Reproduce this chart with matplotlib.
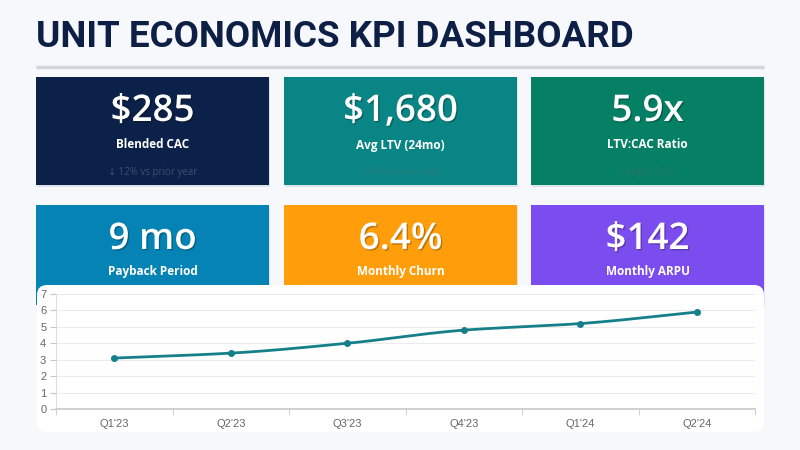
import numpy as np
import matplotlib.pyplot as plt
from matplotlib.patches import FancyBboxPatch, Rectangle
import matplotlib.patheffects as pe

title = "UNIT ECONOMICS KPI DASHBOARD"

kpi_values = ["$285", "$1,680", "5.9x", "9 mo", "6.4%", "$142"]
kpi_labels = ["Blended CAC", "Avg LTV (24mo)", "LTV:CAC Ratio",
              "Payback Period", "Monthly Churn", "Monthly ARPU"]
kpi_notes = ["\u2193 12% vs prior year", "\u2191 8% vs prior year", "Target: 3.0x",
             "", "", ""]
kpi_colors = ["#0c2149", "#0a8585", "#068065", "#0583b4", "#ff9d0a", "#7c4dee"]
kpi_note_colors = ["#3d4f73", "#2a7a7c", "#2a7566", "#2f8fb8", "#e6a040", "#9b7cf0"]

quarters = ["Q1'23", "Q2'23", "Q3'23", "Q4'23", "Q1'24", "Q2'24"]
ratio = [3.1, 3.4, 4.0, 4.8, 5.2, 5.9]


def monotone_curve(y, n=30):
    # monotone cubic hermite between the category points, only for drawing
    y = np.asarray(y, float)
    x = np.arange(len(y), dtype=float)
    d = np.diff(y)
    m = np.zeros_like(y)
    m[0], m[-1] = d[0], d[-1]
    for i in range(1, len(y) - 1):
        m[i] = 0 if d[i - 1] * d[i] <= 0 else 2 / (1 / d[i - 1] + 1 / d[i])
    xs, ys = [], []
    for i in range(len(y) - 1):
        t = np.linspace(0, 1, n)
        h00 = 2 * t**3 - 3 * t**2 + 1
        h10 = t**3 - 2 * t**2 + t
        h01 = -2 * t**3 + 3 * t**2
        h11 = t**3 - t**2
        xs.append(x[i] + t)
        ys.append(h00 * y[i] + h10 * m[i] + h01 * y[i + 1] + h11 * m[i + 1])
    return np.concatenate(xs), np.concatenate(ys)


fig = plt.figure(figsize=(8, 4.5), dpi=100)
fig.patch.set_facecolor("#f7f8fc")

# pixel-space canvas for the dashboard furniture
bg = fig.add_axes([0, 0, 1, 1])
bg.set_xlim(0, 800)
bg.set_ylim(450, 0)
bg.axis("off")

bg.text(36, 37, title, fontsize=26.5, fontweight="bold", color="#0d1f45",
        family="Roboto", va="center", ha="left")
bg.plot([36, 764], [66.5, 66.5], color="#cfd4dd", lw=2.5, solid_capstyle="butt")

card_x = [36, 284, 531]
card_w = 233
rows = [(77, 108), (205, 100)]
shadow = [pe.withSimplePatchShadow(offset=(1, -1), shadow_rgbFace="#000000", alpha=0.25)]

for i in range(6):
    r, c = divmod(i, 3)
    x0 = card_x[c]
    y0, h = rows[r]
    bg.add_patch(Rectangle((x0 + 1, y0 + 2), card_w, h, facecolor="#dfe3ec", edgecolor="none", zorder=1))
    bg.add_patch(Rectangle((x0, y0), card_w, h, facecolor=kpi_colors[i], edgecolor="none", zorder=2))
    cx = x0 + card_w / 2
    if r == 0:
        vy, ly, ny = 112, 145, 173
    else:
        vy, ly, ny = 240, 272, 300
    bg.text(cx, vy, kpi_values[i], fontsize=26.5, fontweight="semibold", color="white",
            family="Open Sans", ha="center", va="center", zorder=3, path_effects=shadow)
    bg.text(cx, ly, kpi_labels[i], fontsize=8.5, fontweight="bold", color="white",
            family="Open Sans", ha="center", va="center", zorder=3)
    if kpi_notes[i]:
        bg.text(cx, ny, kpi_notes[i], fontsize=7, color=kpi_note_colors[i],
                family=["Open Sans", "DejaVu Sans"], ha="center", va="center", zorder=3)

# chart panel
bg.add_patch(FancyBboxPatch((37, 285), 727, 147, boxstyle="round,pad=0,rounding_size=10",
                            facecolor="white", edgecolor="none", zorder=5))

ax = fig.add_axes([56 / 800, 1 - 409 / 450, (755 - 56) / 800, (409 - 294) / 450])
ax.set_facecolor("white")
ax.set_zorder(6)

xs, ys = monotone_curve(ratio)
ax.plot(xs, ys, color="#16808a", lw=2, solid_capstyle="round")
ax.plot(range(len(ratio)), ratio, "o", color="#16808a", ms=4)

ax.set_xlim(-0.5, len(quarters) - 0.5)
ax.set_ylim(0, 7)
ax.set_yticks(range(0, 8))
ax.set_xticks(range(len(quarters)))
ax.set_xticklabels(quarters)
ax.set_xticks(np.arange(-0.5, len(quarters), 1), minor=True)
ax.tick_params(axis="x", which="major", length=0, pad=7, labelsize=8, labelcolor="#666666")
ax.tick_params(axis="x", which="minor", length=4, color="#c8c8c8")
ax.tick_params(axis="y", length=4, color="#c8c8c8", labelsize=8, labelcolor="#666666", pad=3)
for lab in ax.get_xticklabels() + ax.get_yticklabels():
    lab.set_family("Liberation Sans")
ax.grid(axis="y", color="#ebebeb", lw=0.8)
ax.set_axisbelow(True)
for s in ["top", "right"]:
    ax.spines[s].set_visible(False)
ax.spines["left"].set_color("#dddddd")
ax.spines["bottom"].set_color("#c8c8c8")
ax.spines["bottom"].set_linewidth(1.2)

fig.savefig("out.png", dpi=100, facecolor=fig.get_facecolor())
